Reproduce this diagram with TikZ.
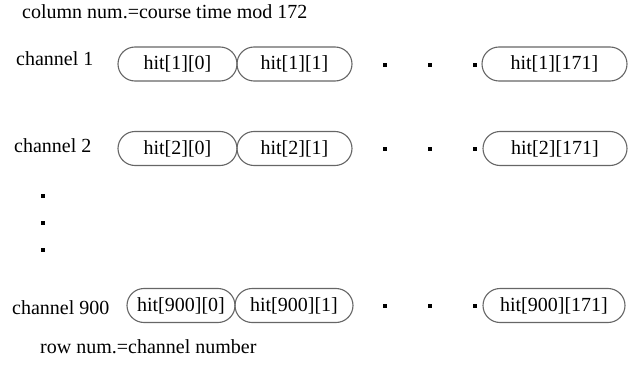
\documentclass[tikz,border=0pt]{standalone}
\usepackage{fontspec}
\setmainfont{Liberation Serif}
\usetikzlibrary{shapes.misc}
\begin{document}
\begin{tikzpicture}[x=1pt,y=-1pt,
  every node/.style={font=\fontsize{20}{24}\selectfont, inner sep=0pt},
  hitbox/.style={rounded rectangle, draw=black!60, line width=1.1pt, minimum height=34pt},
  lbl/.style={anchor=base west},
  dotmark/.style={fill=black, minimum size=3.4pt, inner sep=0pt, rectangle}]
\useasboundingbox (0,0) rectangle (632,369);
\node[lbl] (title) at (22,18.5) {column num.=course time mod 172};
% row 1
\node[lbl] (c1) at (16,66) {channel 1};
\node[hitbox, minimum width=119pt] (h10) at (177.5,64) {hit[1][0]};
\node[hitbox, minimum width=115pt] (h11) at (294.5,64) {hit[1][1]};
\node[hitbox, minimum width=145pt] (h1e) at (554.5,64) {hit[1][171]};
\node[dotmark] (d1a) at (385,65) {};
\node[dotmark] (d1b) at (430,65) {};
\node[dotmark] (d1c) at (475,65) {};
% row 2
\node[lbl] (c2) at (14,152) {channel 2};
\node[hitbox, minimum width=119pt] (h20) at (177.5,148.5) {hit[2][0]};
\node[hitbox, minimum width=115pt] (h21) at (294.5,148.5) {hit[2][1]};
\node[hitbox, minimum width=144pt] (h2e) at (555,148.5) {hit[2][171]};
\node[dotmark] (d2a) at (385,149) {};
\node[dotmark] (d2b) at (430,149) {};
\node[dotmark] (d2c) at (475,149) {};
% vertical dots
\node[dotmark] (v1) at (43,196) {};
\node[dotmark] (v2) at (43,223) {};
\node[dotmark] (v3) at (43,250) {};
% row 3
\node[lbl] (c3) at (12,314) {channel 900};
\node[hitbox, minimum width=108pt] (h30) at (181,305.5) {hit[900][0]};
\node[hitbox, minimum width=118pt] (h31) at (294,305.5) {hit[900][1]};
\node[hitbox, minimum width=142pt] (h3e) at (554,305.5) {hit[900][171]};
\node[dotmark] (d3a) at (385,306) {};
\node[dotmark] (d3b) at (430,306) {};
\node[dotmark] (d3c) at (475,306) {};
\node[lbl] (rown) at (40,353) {row num.=channel number};
\end{tikzpicture}
\end{document}
